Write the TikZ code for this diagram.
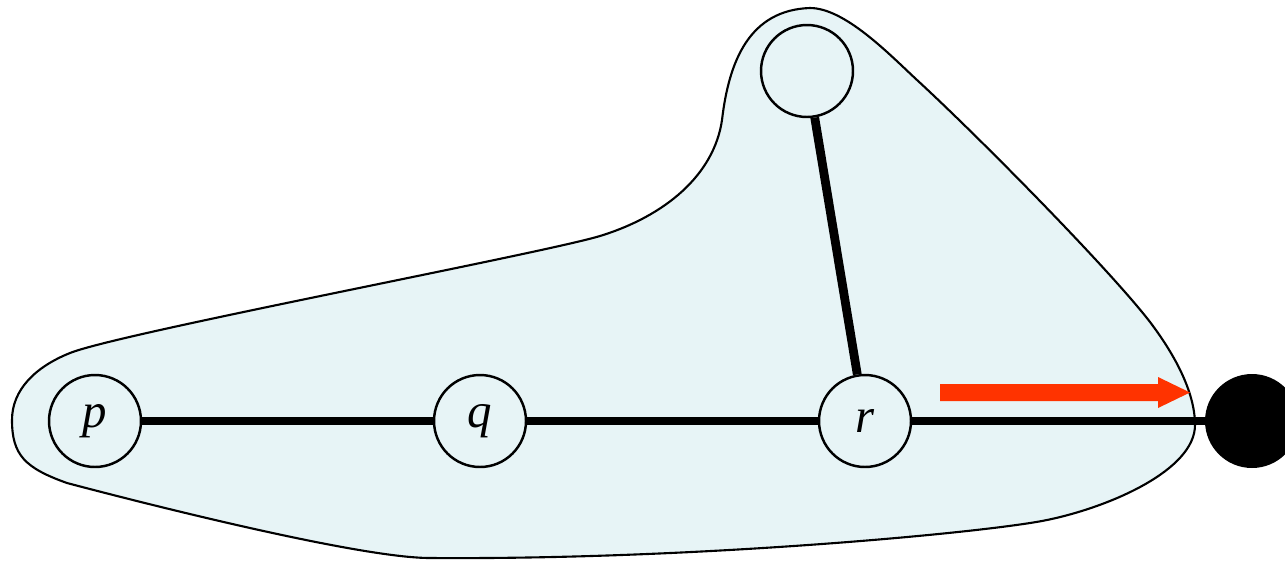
\documentclass[tikz,border=0pt]{standalone}
\usepackage{fontspec}
\setmainfont{Liberation Serif}
\begin{document}
\begin{tikzpicture}[x=0.02cm,y=-0.02cm,
  vert/.style={circle,draw=black,line width=1.4pt,fill=blobfill,minimum size=1.84cm,inner sep=0pt,
    font=\fontsize{27.8}{30}\selectfont\itshape},
  sink/.style={circle,fill=black,minimum size=1.88cm,inner sep=0pt},
  edgeline/.style={line width=5pt,black},
  blob/.style={draw=black,line width=1.2pt,fill=blobfill},
  redarrow/.style={fill=arrowred,draw=none}]
\definecolor{blobfill}{RGB}{231,244,246}
\definecolor{arrowred}{RGB}{255,51,0}
\useasboundingbox (0,0) rectangle (1285,562);
% blob
\draw[blob] (12,420)
  .. controls (12,390) and (35,367) .. (70,353)
  .. controls (120,333) and (540,254) .. (600,236)
  .. controls (665,216) and (714,175) .. (722,120)
  .. controls (729,60) and (750,10) .. (810,8)
  .. controls (845,8) and (890,55) .. (917,80)
  .. controls (980,138) and (1110,270) .. (1150,322)
  .. controls (1172,351) and (1195,390) .. (1195,425)
  .. controls (1195,470) and (1110,507) .. (1047,520)
  .. controls (990,532) and (700,560) .. (430,558)
  .. controls (360,558) and (150,505) .. (67,483)
  .. controls (25,468) and (12,455) .. (12,420) -- cycle;
% nodes
\node[vert] (p) at (95,421) {p};
\node[vert] (q) at (480,421) {q};
\node[vert] (r) at (865,421) {r};
\node[vert] (t) at (807,71) {};
\node[sink] (s) at (1252,421) {};
% edges
\draw[edgeline] (p) -- (q);
\draw[edgeline] (q) -- (r);
\draw[edgeline] (r) -- (s);
\draw[edgeline] (t) -- (r);
% red arrow
\fill[redarrow] (940,384) -- (1158,384) -- (1158,377) -- (1190,392.5) -- (1158,408) -- (1158,401) -- (940,401) -- cycle;
\end{tikzpicture}
\end{document}
